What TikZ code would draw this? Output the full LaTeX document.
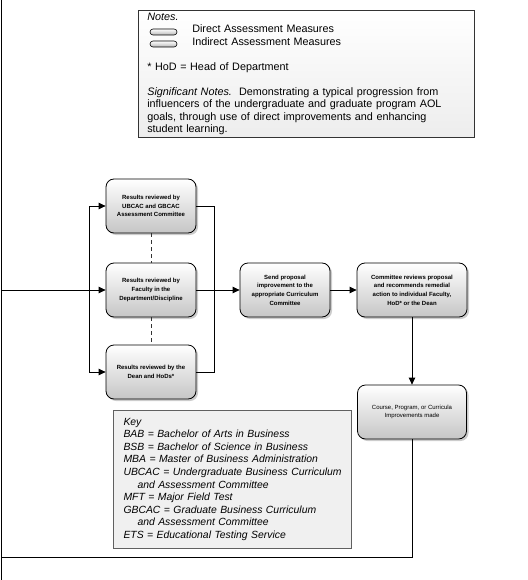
\documentclass[tikz,border=0pt]{standalone}
\usepackage{fontspec}
\setmainfont{Liberation Sans}
\usepackage{xcolor}
\usepackage{tikz}
\usetikzlibrary{shadows}
\usetikzlibrary{arrows.meta}
\tikzset{
    stepbox/.style = {rectangle, rounded corners=8pt, draw=black, line width=0.8pt, top color=white, bottom color=gray!45, drop shadow={shadow xshift=2pt, shadow yshift=-2pt, fill=gray!80}, align=center, font=\fontsize{6}{8.7}\selectfont\bfseries, inner sep=2pt, minimum height=54pt, minimum width=90pt},
    pill/.style = {rectangle, rounded corners=3pt, draw=black, line width=0.6pt, top color=white, bottom color=gray!55, inner sep=0pt, minimum width=27pt, minimum height=6pt},
    notebox/.style = {rectangle, draw=black!80, line width=0.6pt, top color=white, bottom color=gray!14, align=left, anchor=north west, text width=318pt, inner xsep=9pt, inner ysep=2.5pt, font=\fontsize{10.8}{12.5}\selectfont},
    keybox/.style = {rectangle, draw=gray!75!black, line width=1pt, fill=gray!12, align=left, anchor=north west, text width=218pt, inner xsep=10pt, inner ysep=7.5pt, font=\fontsize{10.4}{12.6}\selectfont\itshape},
}

\begin{document}
\begin{tikzpicture}[
	x=1pt, y=-1pt,
	line width=0.8pt
]
\tikzset{
    edgen/.style = {-},
    edgea/.style = {-{Triangle[length=7pt,width=6.5pt]}},
    edged/.style = {-, gray!40!black, dash pattern=on 4pt off 3pt}
}
\useasboundingbox (0,0) rectangle (527,580);
% notes and legend
\node[notebox] at (138,10) (notes) {\textit{Notes.}\\
\hspace*{45pt}Direct Assessment Measures\\
\hspace*{45pt}Indirect Assessment Measures\\[12.5pt]
* HoD = Head of Department\\[12.5pt]
\mbox{\textit{Significant Notes.}\ \ Demonstrating a typical progression from}\\
\mbox{influencers of the undergraduate and graduate program AOL}\\
\mbox{goals, through use of direct improvements and enhancing}\\
student learning.};
\node[pill] at (163.5,32) (pilld) {};
\node[pill] at (163.5,44) (pilli) {};
%
\node[stepbox] at (151,206) (ubcac) {Results reviewed by\\UBCAC and GBCAC\\Assessment Committee};
\node[stepbox] at (151,290) (faculty) {Results reviewed by\\Faculty in the\\Department/Discipline};
\node[stepbox] at (151,372) (dean) {Results reviewed by the\\Dean and HoDs*};
\node[stepbox] at (285,290) (send) {Send proposal\\improvement to the\\appropriate Curriculum\\Committee};
\node[stepbox, minimum width=110pt] at (412,290) (review) {Committee reviews proposal\\and recommends remedial\\action to individual Faculty,\\HoD* or the Dean};
\node[stepbox, minimum width=109pt, font=\fontsize{6}{8.7}\selectfont] at (412,412) (course) {Course, Program, or Curricula\\Improvements made};
%
\coordinate (lefttop) at (1,0);
\coordinate (leftbot) at (1,580);
\coordinate (loop) at (1,557);
\coordinate (fanl) at (89,0);
\coordinate (fanr) at (214,0);
%
\draw[edgen] (lefttop) -- (leftbot);
\draw[edgea] (faculty.west -| lefttop) -- (faculty);
\draw[edgea] (fanl |- faculty) |- (ubcac);
\draw[edgea] (fanl |- faculty) |- (dean);
%
\draw[edgen] (ubcac) -| (fanr |- faculty);
\draw[edgen] (dean) -| (fanr |- faculty);
\draw[edgea] (faculty) -- (send);
\draw[edgea] (send) -- (review);
\draw[edgea] (review) -- (course);
\draw[edgen] (course) |- (loop);
%
\draw[edged] (ubcac) -- (faculty);
\draw[edged] (faculty) -- (dean);
% key
\node[keybox] at (113,410) (key) {Key\\
\mbox{BAB = Bachelor of Arts in Business}\\
\mbox{BSB = Bachelor of Science in Business}\\
\mbox{MBA = Master of Business Administration}\\
\mbox{UBCAC = Undergraduate Business Curriculum}\\
\hspace*{14pt}and Assessment Committee\\
MFT = Major Field Test\\
\mbox{GBCAC = Graduate Business Curriculum}\\
\hspace*{14pt}and Assessment Committee\\
\mbox{ETS = Educational Testing Service}};
\end{tikzpicture}
\end{document}
